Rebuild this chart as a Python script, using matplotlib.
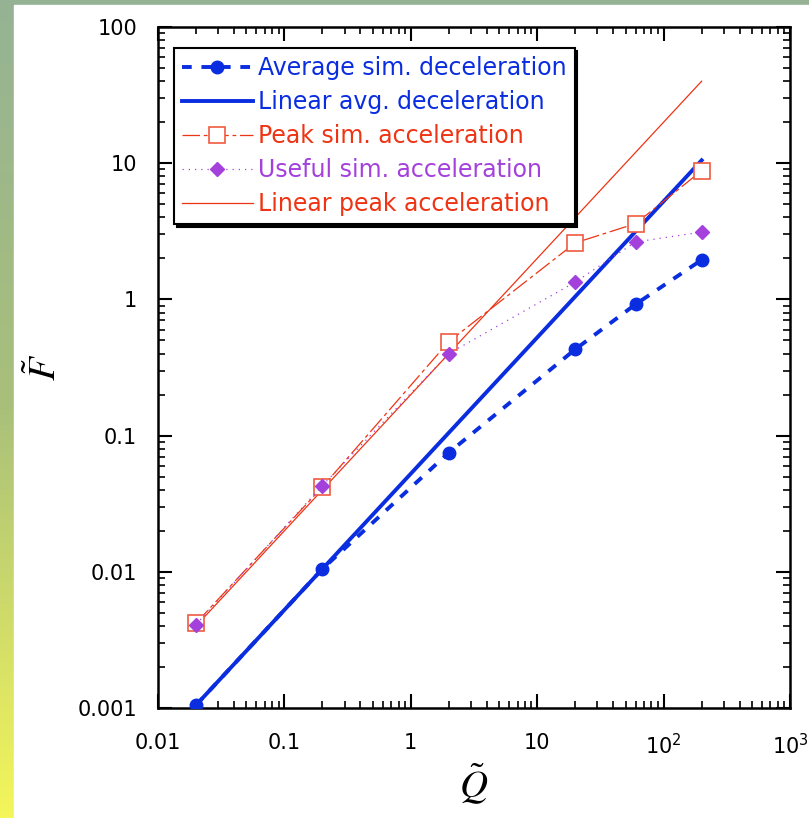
import matplotlib
matplotlib.use("Agg")
import matplotlib.pyplot as plt
import numpy as np
from matplotlib.patches import Rectangle

# data
q_sim = [0.02, 0.2, 2, 20, 60, 200]
avg_decel = [0.00105, 0.0105, 0.075, 0.43, 0.92, 1.95]
peak_acc = [0.0042, 0.042, 0.49, 2.6, 3.6, 8.8]
useful_acc = [0.0041, 0.043, 0.40, 1.34, 2.64, 3.12]
q_lin = [0.02, 200]
lin_avg = [0.00105, 10.5]
lin_peak = [0.004, 40]

xticks = [0.01, 0.1, 1, 10, 100, 1000]
xticklabels = ["0.01", "0.1", "1", "10", "$10^2$", "$10^3$"]
yticks = [0.001, 0.01, 0.1, 1, 10, 100]
yticklabels = ["0.001", "0.01", "0.1", "1", "10", "100"]

blue = "#0a2de0"
red = "#ee3414"
purple = "#a440dc"

fig = plt.figure(figsize=(8.09, 8.18), dpi=100)

# background: green/yellow gradient strip on the left, white panel
bg = fig.add_axes([0, 0, 1, 1], zorder=-10)
grad = np.linspace(0, 1, 256).reshape(-1, 1)
cmap = matplotlib.colors.LinearSegmentedColormap.from_list(
    "bg", ["#95b394", "#a9c07a", "#f4f65a"])
bg.imshow(grad, aspect="auto", cmap=cmap, extent=[0, 1, 0, 1])
bg.add_patch(Rectangle((14 / 809, 0), 1, 1 - 5 / 818, color="white"))
bg.set_xlim(0, 1)
bg.set_ylim(0, 1)
bg.axis("off")

ax = fig.add_axes([0.1953, 0.1345, 0.7812, 0.8325])
ax.set_xscale("log")
ax.set_yscale("log")

ax.plot(q_lin, lin_peak, color=red, lw=0.9, label="Linear peak acceleration", zorder=2)
ax.plot(q_lin, lin_avg, color=blue, lw=2.8, label="Linear avg. deceleration", zorder=3)
ax.plot(q_sim, avg_decel, color=blue, lw=2.8, ls=(0, (2.5, 2.5)), marker="o",
        ms=9, label="Average sim. deceleration", zorder=4)
ax.plot(q_sim, peak_acc, color=red, lw=0.9, ls=(0, (14, 3, 3, 3)), marker="s",
        ms=12, mfc="white", mec="#f05a40", mew=1.2, label="Peak sim. acceleration", zorder=5)
ax.plot(q_sim, useful_acc, color=purple, lw=0.9, ls=(0, (1, 4)), marker="D",
        ms=7, label="Useful sim. acceleration", zorder=6)

ax.set_xlim(0.01, 1000)
ax.set_ylim(0.001, 100)
ax.set_xticks(xticks)
ax.set_xticklabels(xticklabels)
ax.set_yticks(yticks)
ax.set_yticklabels(yticklabels)
ax.tick_params(which="both", direction="in", top=True, right=True, labelsize=15)
ax.tick_params(axis="x", which="major", pad=18)
ax.tick_params(axis="y", which="major", pad=15)
ax.tick_params(which="major", length=10, width=1.5)
ax.tick_params(which="minor", length=5, width=1.2)
for s in ax.spines.values():
    s.set_linewidth(1.8)

ax.set_xlabel(r"$\tilde{Q}$", fontsize=28, math_fontfamily="stix", labelpad=2)
ax.set_ylabel(r"$\tilde{F}$", fontsize=28, math_fontfamily="stix", labelpad=10)

handles, labels = ax.get_legend_handles_labels()
order = [2, 1, 3, 4, 0]
leg = ax.legend([handles[i] for i in order], [labels[i] for i in order],
                loc="upper left", bbox_to_anchor=(0.025, 0.969), fontsize=17,
                handlelength=3.0, handletextpad=0.2, labelspacing=0.42,
                fancybox=False, framealpha=1, edgecolor="black", borderpad=0.35,
                borderaxespad=0, shadow={"color": "black", "alpha": 1})
leg.get_frame().set_linewidth(1.5)
for t, c in zip(leg.get_texts(), [blue, blue, red, purple, red]):
    t.set_color(c)

plt.savefig("out.png", dpi=100)
